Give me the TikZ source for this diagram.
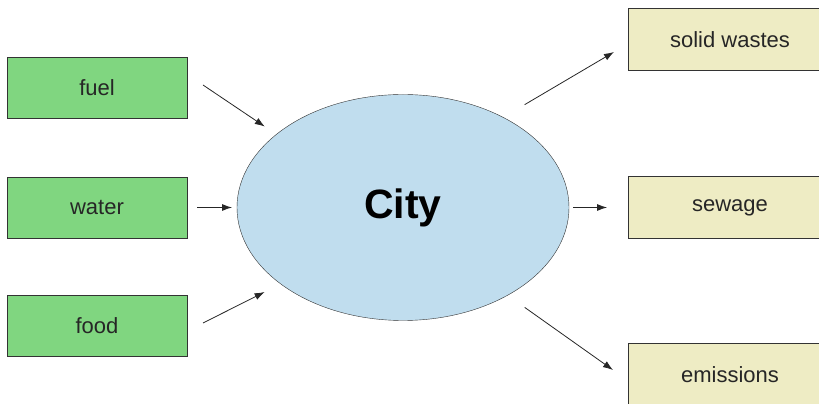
\documentclass[tikz,border=0pt]{standalone}
\usepackage{fontspec}
\setmainfont{Liberation Sans}
\usetikzlibrary{arrows.meta}
\usetikzlibrary{shapes.geometric}
\definecolor{inputgreen}{RGB}{128,214,128}
\definecolor{outputbeige}{RGB}{238,236,196}
\definecolor{cityblue}{RGB}{192,221,238}
\tikzstyle{resource}=[draw=black!80, fill=inputgreen, minimum width=180pt, minimum height=61pt,
                      inner sep=0, outer sep=0, text=black!85, font=\fontsize{22pt}{24pt}\selectfont]
\tikzstyle{waste}=[resource, fill=outputbeige, minimum width=204pt, minimum height=62pt]
\tikzstyle{flow}=[draw=black!85, line width=0.8pt, -{Latex[length=10pt,width=7pt]}]

\begin{document}
\begin{tikzpicture}[x=1pt, y=1pt]
        \useasboundingbox (0, 0) rectangle (819, 404);
        % inputs
        \node[resource] (fuel) at (97, 316.5) {fuel\hspace{10pt}};
        \node[resource] (water) at (97, 196.5) {water};
        \node[resource] (food) at (97, 78.5) {food\hspace{6pt}};
        % the city
        \node[ellipse, draw=black!80, fill=cityblue, minimum width=332pt, minimum height=226pt,
              inner sep=0, outer sep=0, font=\fontsize{41pt}{44pt}\selectfont\bfseries]
              (city) at (403, 196.5) {City};
        % outputs (cut off at the right edge)
        \node[waste] (solid) at (730, 364.5) {solid wastes};
        \node[waste] (sewage) at (730, 196.5) {sewage};
        \node[waste] (emissions) at (730, 29.5) {emissions};
        % flows in
        \draw[flow, shorten >=14pt] ([xshift=16pt, yshift=2.5pt]fuel.east) -- (city.150);
        \draw[flow, shorten >=5pt] ([xshift=10pt]water.east) -- (city.west);
        \draw[flow, shorten >=18pt] ([xshift=16pt, yshift=2.5pt]food.east) -- (city.212);
        % flows out
        \draw[flow, shorten <=25pt] (city.42) -- ([xshift=-14pt, yshift=-12.5pt]solid.west);
        \draw[flow, shorten <=4pt] (city.east) -- ([xshift=-21pt]sewage.west);
        \draw[flow, shorten <=21pt] (city.320) -- ([xshift=-15pt, yshift=4.5pt]emissions.west);
    \end{tikzpicture}
\end{document}
